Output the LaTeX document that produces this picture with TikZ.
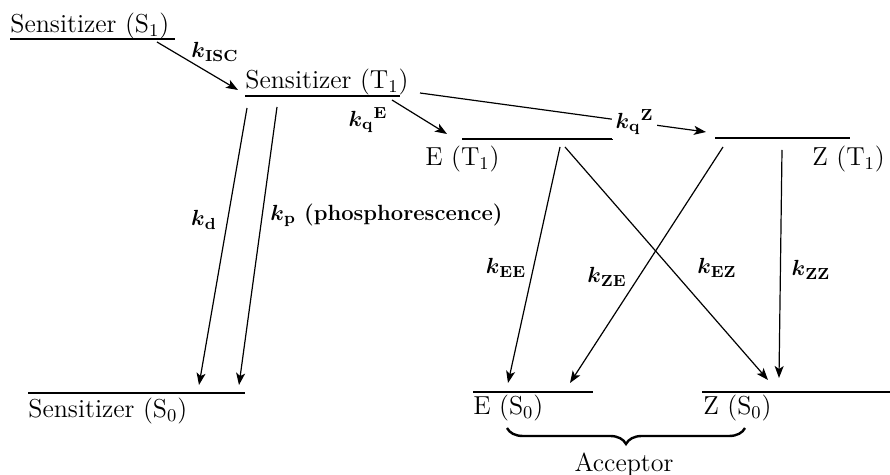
\documentclass[tikz,border=0pt]{standalone}
\usepackage{amsmath,amssymb}
\usepackage{tikz}
\usetikzlibrary{arrows,arrows.meta,positioning,calc,decorations.pathreplacing}
\tikzset{
    level/.style={line width=1.1pt, black},
    trans/.style={line width=0.6pt, black, -{Stealth[length=6pt,width=4.5pt,inset=1.5pt]}},
    statelab/.style={font=\fontsize{13}{15}\selectfont, inner sep=0pt},
    ratelab/.style={font=\fontsize{11}{13}\selectfont\bfseries, inner sep=1pt},
}
\newcommand{\rate}[1]{$\boldsymbol{k}_{\mathbf{#1}}$}

\begin{document}
\begin{tikzpicture}[x=0.5pt, y=-0.5pt]
    \useasboundingbox (0,0) rectangle (890,475);

    % Energy levels
    \foreach \name/\xa/\xb/\y in {S1/10/175/39, T1/245/400/96, ET/462/613/139, ZT/715/850/138,
                                  S0/28/245/393, ES/473/593/392, ZS/702/890/392} {
        \coordinate (\name-l) at (\xa,\y);
        \coordinate (\name-r) at (\xb,\y);
        \draw[level] (\name-l) -- (\name-r);
    }

    % State labels
    \node[statelab, anchor=base west] (S1lab) at (10,33) {Sensitizer (S$_1$)};
    \node[statelab, anchor=base west] (T1lab) at (245,89) {Sensitizer (T$_1$)};
    \node[statelab, anchor=base west] (ETlab) at (425,166) {E (T$_1$)};
    \node[statelab, anchor=base west] (ZTlab) at (812,166) {Z (T$_1$)};
    \node[statelab, anchor=base west] (S0lab) at (28,418) {Sensitizer (S$_0$)};
    \node[statelab, anchor=base west] (ESlab) at (473,415) {E (S$_0$)};
    \node[statelab, anchor=base west] (ZSlab) at (703,415) {Z (S$_0$)};

    % Arrow end points
    \foreach \name/\x/\y in {isc-a/157/42, isc-b/238/90,
                             d-a/247/108, d-b/199/385, p-a/277/107, p-b/239/385,
                             qE-a/392/100, qE-b/447/134, qZ-a/420/93, qZ-b/706/132,
                             EE-a/560/147, EE-b/508/383, EZ-a/565/147, EZ-b/768/380,
                             ZE-a/723/147, ZE-b/570/383, ZZ-a/782/150, ZZ-b/779/378} {
        \coordinate (\name) at (\x,\y);
    }

    % Sensitizer
    \draw[trans] (isc-a) -- (isc-b);
    \node[ratelab] (kisc) at (215,52) {\rate{ISC}};
    \draw[trans] (d-a) -- (d-b);
    \node[ratelab] (kd) at (204,220) {\rate{d}};
    \draw[trans] (p-a) -- (p-b);
    \node[ratelab, anchor=west] (kp) at (268,215) {\rate{p} (phosphorescence)};

    % Energy transfer
    \draw[trans] (qE-a) -- (qE-b);
    \node[ratelab] (kqE) at (368,120) {$\boldsymbol{k}_{\mathbf{q}}{}^{\mathbf{E}}$};
    \draw[trans] (qZ-a) -- (qZ-b)
        node[ratelab, pos=0.75, fill=white, inner sep=2pt] (kqZ) {$\boldsymbol{k}_{\mathbf{q}}{}^{\mathbf{Z}}$};

    % Acceptor decay
    \draw[trans] (EE-a) -- (EE-b);
    \node[ratelab] (kEE) at (506,268) {\rate{EE}};
    \draw[trans] (EZ-a) -- (EZ-b);
    \node[ratelab] (kEZ) at (717,268) {\rate{EZ}};
    \draw[trans] (ZE-a) -- (ZE-b);
    \node[ratelab] (kZE) at (607,277) {\rate{ZE}};
    \draw[trans] (ZZ-a) -- (ZZ-b);
    \node[ratelab] (kZZ) at (811,270) {\rate{ZZ}};

    % Acceptor brace
    \coordinate (br-a) at (507,428);
    \coordinate (br-b) at (745,428);
    \draw[line width=1.2pt, decorate, decoration={brace, mirror, amplitude=8pt}] (br-a) -- (br-b);
    \node[statelab, anchor=base] (acc) at (624,472) {Acceptor};
\end{tikzpicture}
\end{document}
